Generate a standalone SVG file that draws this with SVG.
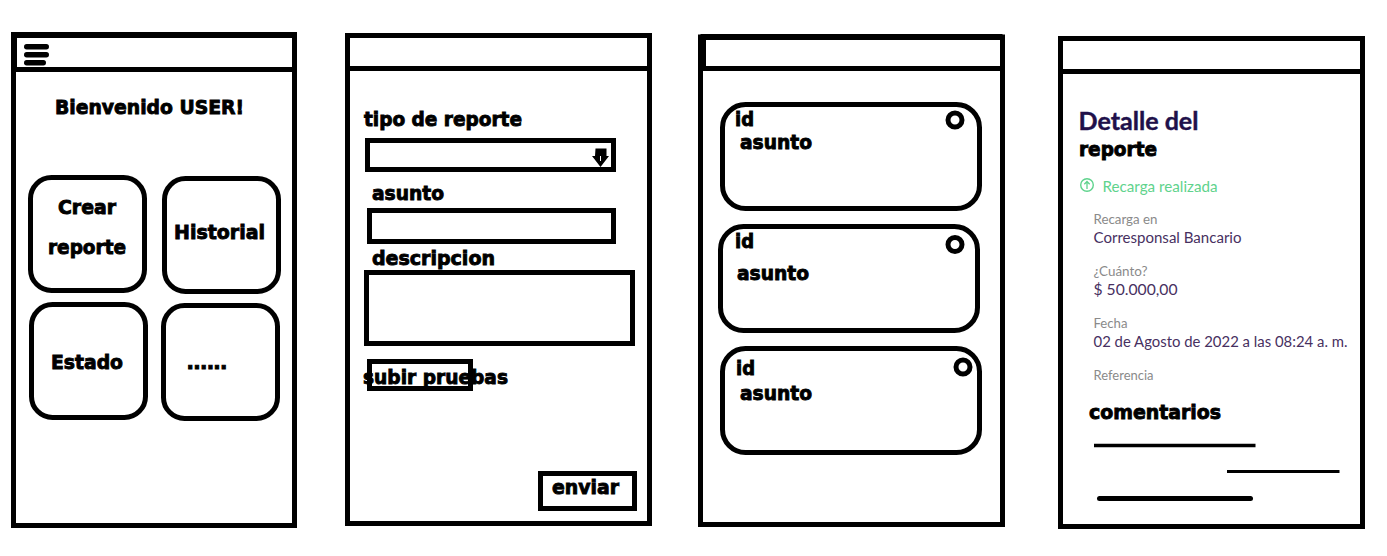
<svg xmlns="http://www.w3.org/2000/svg" width="1387" height="556" viewBox="0 0 1387 556">
<style>
.f{fill:#fff;stroke:#000;stroke-width:5}
.n{fill:none;stroke:#000;stroke-width:5}
.b{font-family:"DejaVu Sans","Liberation Sans",sans-serif;font-weight:700;font-size:19.500px;fill:#000;stroke:#000;stroke-width:.9px}
.d{font-family:"Lato","Noto Sans",sans-serif;font-size:14.5px;fill:#47305f}
.g{font-family:"Lato","Noto Sans",sans-serif;font-size:13px;fill:#8a8a8a}
</style>
<rect width="1387" height="556" fill="#fff"/>
<g id="screen-home">
<rect class="f" x="13.500" y="35" width="281" height="490.500"/>
<line class="n" x1="13.500" y1="69.500" x2="294.500" y2="69.500"/>
<line x1="11" y1="35" x2="297" y2="35" stroke="#000" stroke-width="6"/>
<rect x="16" y="35" width="1" height="34" fill="#000"/>
<g fill="#000"><rect x="24" y="44" width="25" height="5.500" rx="2.700"/><rect x="24" y="52" width="25" height="5.500" rx="2.700"/><rect x="24" y="60" width="22" height="5.500" rx="2.700"/></g>
<text class="b" x="55" y="113.500" textLength="189" lengthAdjust="spacingAndGlyphs">Bienvenido USER!</text>
<rect class="f" x="30.500" y="177.500" width="114" height="113" rx="21"/>
<text class="b" x="58" y="213.500" textLength="58" lengthAdjust="spacingAndGlyphs">Crear</text>
<text class="b" x="48" y="253.500" textLength="78" lengthAdjust="spacingAndGlyphs">reporte</text>
<rect class="f" x="164.500" y="178.500" width="114" height="113" rx="21"/>
<text class="b" x="174" y="238.500" textLength="91" lengthAdjust="spacingAndGlyphs">Historial</text>
<rect class="f" x="31.500" y="304.500" width="114" height="113" rx="21"/>
<text class="b" x="51" y="368.500" textLength="72" lengthAdjust="spacingAndGlyphs">Estado</text>
<rect class="f" x="163.500" y="305.500" width="114" height="113" rx="21"/>
<text class="b" x="186.500" y="368.500" textLength="41" lengthAdjust="spacing">......</text>
</g>
<g id="screen-form">
<rect class="f" x="347.500" y="35.500" width="302" height="488"/>
<line class="n" x1="347.500" y1="68.500" x2="649.500" y2="68.500"/>
<text class="b" x="364" y="125.500" textLength="158" lengthAdjust="spacingAndGlyphs">tipo de reporte</text>
<rect class="n" x="367.500" y="140.500" width="246" height="29"/>
<path fill="#000" d="M595.500 148.500h11v7.500h2.500l-8.500 11-8.500-11h3z"/>
<line x1="600.500" y1="156" x2="600.500" y2="161" stroke="#fff" stroke-width="1"/>
<text class="b" x="372" y="199.500" textLength="72" lengthAdjust="spacingAndGlyphs">asunto</text>
<rect class="n" x="369.500" y="210.500" width="244" height="31"/>
<text class="b" x="372" y="264.500" textLength="123" lengthAdjust="spacingAndGlyphs">descripcion</text>
<rect class="n" x="366.500" y="272.500" width="266" height="71"/>
<rect class="n" x="369.500" y="361.500" width="101" height="27"/>
<text class="b" x="363" y="383.500" textLength="145" lengthAdjust="spacingAndGlyphs">subir pruebas</text>
<rect class="n" x="540.500" y="473.500" width="94" height="35"/>
<text class="b" x="552" y="493.500" textLength="67" lengthAdjust="spacingAndGlyphs">enviar</text>
</g>
<g id="screen-list">
<rect class="f" x="700.500" y="37" width="302" height="487.500"/>
<rect x="703" y="37" width="3" height="32" fill="#000"/>
<line class="n" x1="700.500" y1="68.500" x2="1002.500" y2="68.500"/>
<line class="n" x1="700.500" y1="37" x2="1002.500" y2="37" style="stroke-width:6"/>
<rect class="f" x="722.500" y="104.500" width="257" height="104" rx="23"/>
<text class="b" x="735" y="125.500" textLength="19" lengthAdjust="spacingAndGlyphs">id</text>
<text class="b" x="740" y="148.500" textLength="72" lengthAdjust="spacingAndGlyphs">asunto</text>
<circle class="n" cx="955" cy="120" r="7"/>
<rect class="f" x="720.500" y="226.500" width="257" height="104" rx="23"/>
<text class="b" x="735" y="247.500" textLength="19" lengthAdjust="spacingAndGlyphs">id</text>
<text class="b" x="737" y="279.500" textLength="72" lengthAdjust="spacingAndGlyphs">asunto</text>
<circle class="n" cx="955" cy="244.500" r="7"/>
<rect class="f" x="722.500" y="348.500" width="257" height="104" rx="23"/>
<text class="b" x="736" y="374.500" textLength="19" lengthAdjust="spacingAndGlyphs">id</text>
<text class="b" x="740" y="399.500" textLength="72" lengthAdjust="spacingAndGlyphs">asunto</text>
<circle class="n" cx="963" cy="367" r="7"/>
</g>
<g id="screen-detail">
<rect class="f" x="1060.500" y="38.500" width="302" height="488"/>
<line class="n" x1="1060.500" y1="71.500" x2="1362.500" y2="71.500"/>
<text x="1078.500" y="130" font-family="Lato,'Noto Sans',sans-serif" font-weight="700" font-size="25" fill="#20104a" stroke="#20104a" stroke-width="0.400" textLength="120" lengthAdjust="spacingAndGlyphs">Detalle del</text>
<text class="b" x="1079" y="155.500" textLength="78" lengthAdjust="spacingAndGlyphs">reporte</text>
<circle cx="1087" cy="185" r="6.300" fill="none" stroke="#5fd38d" stroke-width="1.400"/>
<path d="M1087 189v-7.500M1084.300 184.200l2.700-2.700 2.700 2.700" fill="none" stroke="#5fd38d" stroke-width="1.300"/>
<text x="1102.500" y="192" font-family="Lato,'Noto Sans',sans-serif" font-size="15" fill="#5fd38d" textLength="115" lengthAdjust="spacingAndGlyphs">Recarga realizada</text>
<text class="g" x="1093.500" y="224" textLength="64" lengthAdjust="spacingAndGlyphs">Recarga en</text>
<text class="d" x="1093.500" y="243" textLength="148" lengthAdjust="spacingAndGlyphs">Corresponsal Bancario</text>
<text class="g" x="1093.500" y="276" textLength="54" lengthAdjust="spacingAndGlyphs">¿Cuánto?</text>
<text class="d" x="1093.500" y="295" textLength="84" lengthAdjust="spacingAndGlyphs">$ 50.000,00</text>
<text class="g" x="1093.500" y="328" textLength="34" lengthAdjust="spacingAndGlyphs">Fecha</text>
<text class="d" x="1093.500" y="347" textLength="254" lengthAdjust="spacingAndGlyphs">02 de Agosto de 2022 a las 08:24 a. m.</text>
<text class="g" x="1093.500" y="380" textLength="60" lengthAdjust="spacingAndGlyphs">Referencia</text>
<text class="b" x="1089" y="418.500" textLength="132" lengthAdjust="spacingAndGlyphs">comentarios</text>
<line x1="1094" y1="445.500" x2="1255.500" y2="445.500" stroke="#000" stroke-width="3.500"/>
<line x1="1227" y1="471.500" x2="1339.500" y2="471.500" stroke="#000" stroke-width="3"/>
<line x1="1099.500" y1="498.500" x2="1250.500" y2="498.500" stroke="#000" stroke-width="5" stroke-linecap="round"/>
</g>
<g id="connectors"></g>
</svg>
